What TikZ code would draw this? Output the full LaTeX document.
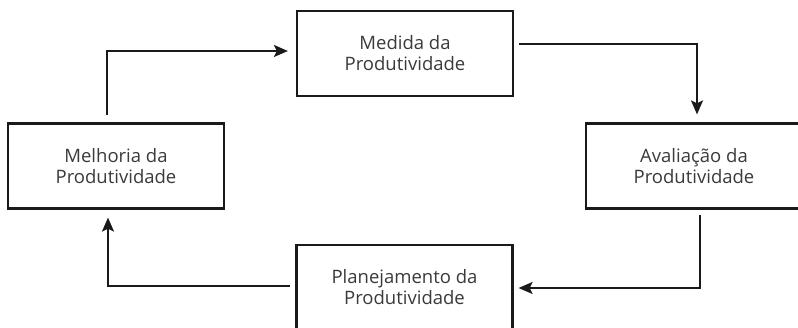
\documentclass[tikz,border=0pt]{standalone}
\usepackage{fontspec}
\setmainfont[Ligatures=NoCommon]{Open Sans}
\usetikzlibrary{arrows.meta}
\definecolor{txt}{HTML}{3A3A3A}
\definecolor{ln}{HTML}{1A1A1A}
\tikzset{
  box/.style={draw=ln, line width=2.2pt, minimum width=216pt, minimum height=85pt,
    align=center, text=txt, font=\fontsize{18.5}{21}\selectfont, inner sep=0pt},
  conn/.style={draw=ln, line width=2.2pt, -{Stealth[length=14pt,width=12pt,inset=3pt]}}
}
\begin{document}
\begin{tikzpicture}[x=1pt,y=1pt]
\useasboundingbox (0,0) rectangle (798,328);
\clip (0,0) rectangle (798,328);
\fill[white] (0,0) rectangle (798,328);
\node[box] (med) at (405,274.5) {Medida da\\Produtividade};
\node[box] (mel) at (116,162) {Melhoria da\\Produtividade};
\node[box] (ava) at (694,162) {Avaliação da\\Produtividade};
\node[box] (pla) at (404.5,40.5) {Planejamento da\\Produtividade};
\draw[conn] ([xshift=-9pt,yshift=7pt]mel.north) |- ([xshift=-8pt,yshift=2.5pt]med.west);
\draw[conn] ([xshift=5pt,yshift=9.5pt]med.east) -| ([xshift=3pt,yshift=8pt]ava.north);
\draw[conn] ([xshift=6pt,yshift=-5pt]ava.south) |- ([xshift=5pt,yshift=-0.5pt]pla.east);
\draw[conn] ([xshift=-5pt,yshift=1.5pt]pla.west) -| ([xshift=-8pt,yshift=-8pt]mel.south);
\end{tikzpicture}
\end{document}
